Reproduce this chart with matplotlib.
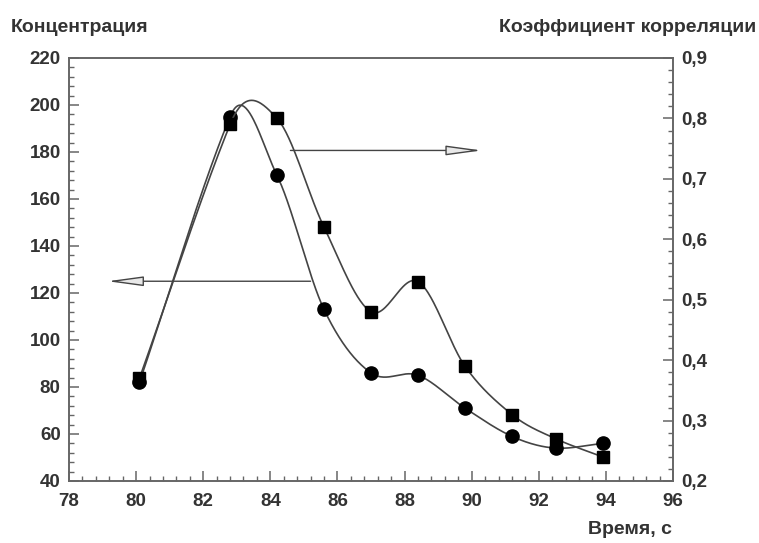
import numpy as np
import matplotlib.pyplot as plt
from matplotlib.ticker import MultipleLocator, FuncFormatter

# data
time_s = [80.1, 82.8, 84.2, 85.6, 87.0, 88.4, 89.8, 91.2, 92.5, 93.9]
concentration = [82, 195, 170, 113, 86, 85, 71, 59, 54, 56]
correlation = [0.37, 0.79, 0.80, 0.62, 0.48, 0.53, 0.39, 0.31, 0.27, 0.24]

x_ticks = [78, 80, 82, 84, 86, 88, 90, 92, 94, 96]
left_ticks = [40, 60, 80, 100, 120, 140, 160, 180, 200, 220]
right_ticks = [0.2, 0.3, 0.4, 0.5, 0.6, 0.7, 0.8, 0.9]


def smooth(x, y, xs):
    # cubic Hermite curve through the points, tangents from neighbouring secants
    x = np.asarray(x, float)
    y = np.asarray(y, float)
    h = np.diff(x)
    s = np.diff(y) / h
    m = np.empty_like(y)
    m[0], m[-1] = s[0], s[-1]
    w0, w1 = h[:-1] ** 3, h[1:] ** 3
    m[1:-1] = (w0 * s[:-1] + w1 * s[1:]) / (w0 + w1)
    i = np.clip(np.searchsorted(x, xs) - 1, 0, len(x) - 2)
    t = (xs - x[i]) / h[i]
    h00 = 2 * t ** 3 - 3 * t ** 2 + 1
    h10 = t ** 3 - 2 * t ** 2 + t
    h01 = -2 * t ** 3 + 3 * t ** 2
    h11 = t ** 3 - t ** 2
    return h00 * y[i] + h10 * h[i] * m[i] + h01 * y[i + 1] + h11 * h[i] * m[i + 1]


plt.rcParams['font.family'] = ['Liberation Sans', 'DejaVu Sans']
plt.rcParams['font.weight'] = 'bold'

line_col = '#444444'
text_col = '#333333'

fig = plt.figure(figsize=(7.59, 5.43), dpi=100)
ax = fig.add_axes([0.0909, 0.1142, 0.7958, 0.779])
ax2 = ax.twinx()

xs = np.linspace(time_s[0], time_s[-1], 500)
ax.plot(xs, smooth(time_s, concentration, xs), color=line_col, lw=1.2)
ax.plot(time_s, concentration, 'o', color='black', ms=9.5)
ax2.plot(xs, smooth(time_s, correlation, xs), color=line_col, lw=1.2)
ax2.plot(time_s, correlation, 's', color='black', ms=8.5)

ax.set_xlim(78, 96)
ax.set_ylim(40, 220)
ax2.set_ylim(0.2, 0.9)

ax.set_xticks(x_ticks)
ax.set_yticks(left_ticks)
ax2.set_yticks(right_ticks)
ax.xaxis.set_minor_locator(MultipleLocator(0.4))
ax.yaxis.set_minor_locator(MultipleLocator(4))
ax2.yaxis.set_minor_locator(MultipleLocator(0.02))
ax2.yaxis.set_major_formatter(FuncFormatter(lambda v, p: f'{v:.1f}'.replace('.', ',')))

for a in (ax, ax2):
    a.tick_params(which='major', direction='in', length=7, width=1.1,
                  color='#666666', labelsize=13.5, labelcolor=text_col, pad=6)
    a.tick_params(which='minor', direction='in', length=3.5, width=1.0, color='#666666')
    for s in a.spines.values():
        s.set_color('#666666')
        s.set_linewidth(1.2)
ax.tick_params(axis='x', which='major', pad=9)

# arrows pointing to the axis of each curve
arrow = dict(arrowstyle='-|>,head_length=2.2,head_width=0.3', fc='#e8e8e8',
             ec=line_col, lw=1.0, mutation_scale=10, shrinkA=0, shrinkB=0)
ax.annotate('', xy=(79.15, 125), xytext=(85.2, 125), arrowprops=arrow)
ax2.annotate('', xy=(90.3, 0.747), xytext=(84.6, 0.747), arrowprops=arrow)

fig.text(0.014, 0.95, 'Концентрация', fontsize=14, color=text_col,
         fontweight='bold', va='center', ha='left')
fig.text(0.997, 0.95, 'Коэффициент корреляции', fontsize=14, color=text_col,
         fontweight='bold', va='center', ha='right')
fig.text(0.830, 0.024, 'Время, с', fontsize=14, color=text_col,
         fontweight='bold', va='center', ha='center')

fig.savefig('out.png', dpi=100)
